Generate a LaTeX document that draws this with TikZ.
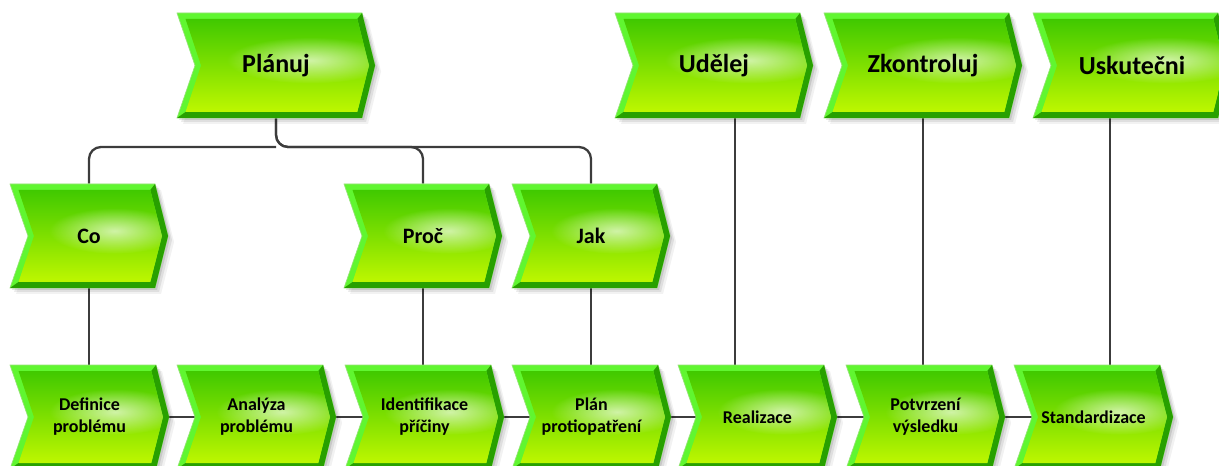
\documentclass[tikz,border=0pt]{standalone}
\usepackage{fontspec}
\setmainfont{Carlito}
\usetikzlibrary{fadings,calc}
\pgfdeclarelayer{bg}
\pgfsetlayers{bg,main}

\definecolor{bevlight}{RGB}{96,246,48}
\definecolor{bevdark}{RGB}{40,160,0}
\definecolor{rimline}{RGB}{150,225,120}
\definecolor{gtop}{RGB}{56,198,0}
\definecolor{gmid}{RGB}{112,220,0}
\definecolor{gbot}{RGB}{198,250,0}
\definecolor{wirecol}{RGB}{60,60,60}

% soft radial fade for the glossy highlight
\tikzfading[name=glossfade, inner color=transparent!0, outer color=transparent!100]

\tikzset{
  wire/.style={draw=wirecol, line width=1.7pt},
  toplbl/.style={font=\fontsize{19.5}{22}\selectfont\bfseries},
  midlbl/.style={font=\fontsize{16.5}{19}\selectfont\bfseries},
  lowlbl/.style={font=\fontsize{13.5}{16.5}\selectfont\bfseries},
}

% chevron process box: #1 name, #2 left, #3 top, #4 body width, #5 height, #6 label style, #7 text
\newcommand\chevbox[7]{%
  \pgfmathsetmacro\cL{#2}\pgfmathsetmacro\cT{#3}%
  \pgfmathsetmacro\cW{#4}\pgfmathsetmacro\cH{#5}%
  \pgfmathsetmacro\cR{\cL+\cW}\pgfmathsetmacro\cB{\cT+\cH}%
  \pgfmathsetmacro\cM{\cT+\cH/2}%
  % soft drop shadow
  \foreach \s/\o in {2/0.10,4/0.08,6/0.05}{%
    \fill[black, opacity=\o, shift={(\s,\s)}]
      (\cL,\cT) -- (\cR,\cT) -- (\cR+13,\cM) -- (\cR,\cB) -- (\cL,\cB) -- (\cL+18,\cM) -- cycle;}
  % outer bevel, light part
  \fill[bevlight, draw=rimline, line width=0.5pt]
    (\cL,\cT) -- (\cR,\cT) -- (\cR+13,\cM) -- (\cR,\cB) -- (\cL,\cB) -- (\cL+18,\cM) -- cycle;
  % dark part of the bevel (right and bottom)
  \fill[bevdark]
    (\cR,\cT) -- (\cR+13,\cM) -- (\cR,\cB) -- (\cL,\cB)
    -- (\cL+8.5,\cB-6) -- (\cR-4.7,\cB-6) -- (\cR+7,\cM) -- (\cR-4.7,\cT+6) -- cycle;
  % face with gradient and gloss
  \begin{scope}
    \clip (\cL+8.5,\cT+6) -- (\cR-4.7,\cT+6) -- (\cR+7,\cM) -- (\cR-4.7,\cB-6)
      -- (\cL+8.5,\cB-6) -- (\cL+24,\cM) -- cycle;
    \shade[top color=gtop, middle color=gmid, bottom color=gbot]
      (\cL,\cT) rectangle (\cR+13,\cB);
    \fill[white, opacity=0.65, path fading=glossfade]
      (\cL+0.72*\cW,\cT+0.45*\cH) ellipse ({0.45*\cW} and {0.22*\cH});
  \end{scope}
  \pgfmathsetmacro\cWpt{(\cW+13)*0.75}\pgfmathsetmacro\cHpt{\cH*0.75}%
  \node[#6, inner sep=0pt, minimum width=\cWpt pt, minimum height=\cHpt pt, align=center]
    (#1) at (\cL+\cW/2+6.5,\cM) {#7};
}

\begin{document}
\begin{tikzpicture}[x=0.75pt, y=-0.75pt]
\useasboundingbox (0,0) rectangle (1219,466);
\clip (0,0) rectangle (1219,466);

% top row
\chevbox{pl}{177}{13}{185}{105}{toplbl}{Plánuj}
\chevbox{ud}{615}{13}{185}{105}{toplbl}{Udělej}
\chevbox{zk}{824}{13}{185}{105}{toplbl}{Zkontroluj}
\chevbox{us}{1033}{13}{185}{105}{toplbl}{Uskutečni}

% middle row
\chevbox{co}{10}{184}{145}{104}{midlbl}{Co}
\chevbox{pr}{344}{184}{145}{104}{midlbl}{Proč}
\chevbox{jk}{512}{184}{145}{104}{midlbl}{Jak}

% process chain
\chevbox{def}{10}{365}{146}{104}{lowlbl}{Definice\\problému}
\chevbox{ana}{177}{365}{146}{104}{lowlbl}{Analýza\\problému}
\chevbox{ide}{345}{365}{146}{104}{lowlbl}{Identifikace\\příčiny}
\chevbox{pla}{512}{365}{146}{104}{lowlbl}{Plán\\protiopatření}
\chevbox{rea}{678}{365}{146}{104}{lowlbl}{Realizace}
\chevbox{pot}{846}{365}{146}{104}{lowlbl}{Potvrzení\\výsledku}
\chevbox{std}{1014}{365}{146}{104}{lowlbl}{Standardizace}

\begin{pgfonlayer}{bg}
  % tree below the planning step
  \coordinate (hub) at (pl.south |- 0,147);
  \draw[wire, rounded corners=9] (co.north) |- (hub);
  \draw[wire, rounded corners=9] (pl.south) -- (hub) -| (pr.north);
  \draw[wire, rounded corners=9] (pl.south) -- (hub) -| (jk.north);

  % vertical links into the process chain
  \draw[wire] (co.south) -- (co.south |- def.north);
  \draw[wire] (pr.south) -- (pr.south |- ide.north);
  \draw[wire] (jk.south) -- (jk.south |- pla.north);
  \coordinate (udx) at ([xshift=15.75pt]ud.south);
  \draw[wire] (udx) -- (udx |- rea.north);
  \draw[wire] (zk.south) -- (zk.south |- pot.north);
  \coordinate (usx) at ([xshift=-16.5pt]us.south);
  \draw[wire] (usx) -- (usx |- std.north);

  % chain links, from each tip into the notch of the next step
  \draw[wire] (def.east) -- ([xshift=13.5pt]ana.west);
  \draw[wire] (ana.east) -- ([xshift=13.5pt]ide.west);
  \draw[wire] (ide.east) -- ([xshift=13.5pt]pla.west);
  \draw[wire] (pla.east) -- ([xshift=13.5pt]rea.west);
  \draw[wire] (rea.east) -- ([xshift=13.5pt]pot.west);
  \draw[wire] (pot.east) -- ([xshift=13.5pt]std.west);
\end{pgfonlayer}
\end{tikzpicture}
\end{document}
